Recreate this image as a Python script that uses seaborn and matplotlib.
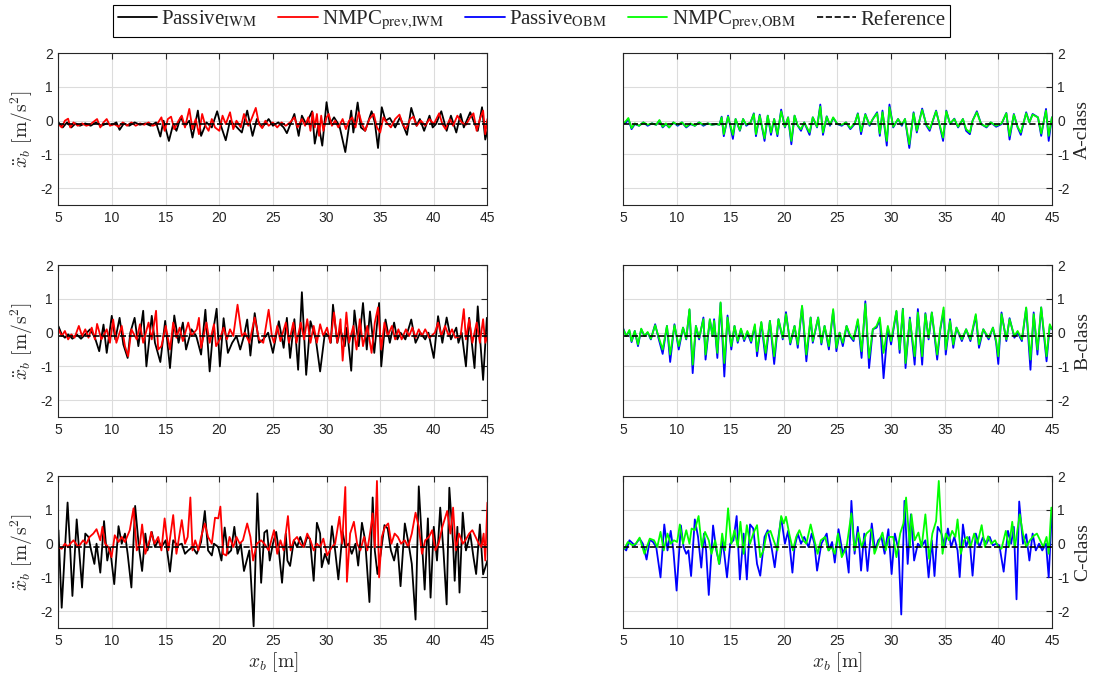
import matplotlib
matplotlib.use("Agg")
import matplotlib.pyplot as plt
from matplotlib.font_manager import FontProperties
from matplotlib.lines import Line2D
import pandas as pd
import seaborn as sns

# (x_b [m], body acceleration [m/s^2]) vertices
# A-class road
a_passive_iwm = [(5.0,-0.05),(5.4,-0.2),(5.8,-0.05),(6.2,-0.2),(6.6,-0.08),(7.0,-0.15),(7.5,-0.08),(8.0,-0.15),(8.5,-0.05),(9.0,-0.15),
    (9.5,-0.08),(10.0,-0.12),(10.4,-0.05),(10.7,-0.27),(11.1,-0.08),(11.6,-0.15),(12.1,-0.05),(12.6,-0.12),(13.1,-0.08),(13.6,-0.15),
    (14.1,-0.05),(14.5,-0.47),(14.8,0.0),(15.3,-0.6),(15.7,-0.1),(16.0,-0.3),(16.4,0.1),(16.8,-0.15),(17.2,0.0),(17.5,-0.5),
    (18.0,0.3),(18.3,-0.45),(18.8,-0.05),(19.3,-0.2),(19.8,0.28),(20.1,-0.1),(20.6,-0.58),(21.0,0.0),(21.5,-0.15),(22.1,-0.35),
    (22.6,0.3),(23.1,-0.45),(23.5,0.05),(24.0,-0.2),(24.6,0.05),(25.0,-0.15),(25.5,-0.05),(26.0,-0.2),(26.3,-0.37),(27.0,0.2),
    (27.4,-0.45),(27.7,0.15),(28.1,-0.1),(28.65,0.28),(28.9,-0.68),(29.25,-0.1),(29.6,-0.74),(30.0,0.55),(30.3,-0.1),(30.7,0.1),
    (31.2,-0.15),(31.75,-0.93),(32.3,0.3),(32.5,-0.35),(32.9,0.54),(33.2,-0.2),(33.6,-0.3),(34.2,0.28),(34.5,-0.05),(34.8,-0.81),
    (35.15,0.4),(35.5,0.0),(35.9,0.08),(36.4,-0.2),(36.85,0.1),(37.5,-0.42),(37.9,0.38),(38.4,-0.15),(38.7,0.05),(39.1,-0.3),
    (39.6,0.15),(39.9,-0.2),(40.2,-0.1),(40.7,0.28),(41.2,-0.3),(41.6,0.15),(42.1,-0.35),(42.5,0.2),(42.8,-0.2),(43.4,0.25),
    (43.7,0.0),(44.1,-0.3),(44.5,0.4),(44.8,-0.56),(45.0,-0.3)]
a_nmpc_iwm = [(5.0,-0.1),(5.3,-0.2),(5.6,0.0),(5.9,0.06),(6.1,-0.2),(6.4,-0.05),(6.8,-0.15),(7.2,-0.08),(7.6,-0.15),(8.0,-0.1),
    (8.4,0.0),(8.6,0.05),(8.9,-0.2),(9.2,-0.05),(9.5,0.05),(9.8,-0.15),(10.2,-0.1),(10.6,-0.18),(11.0,-0.05),(11.4,-0.15),
    (11.8,-0.05),(12.2,-0.15),(12.6,-0.08),(13.0,-0.12),(13.4,-0.05),(13.8,-0.15),(14.2,-0.1),(14.6,0.1),(14.9,-0.3),(15.2,0.05),
    (15.5,0.12),(15.8,-0.25),(16.2,0.0),(16.5,0.15),(16.8,-0.2),(17.2,0.35),(17.5,-0.25),(17.8,0.05),(18.1,-0.4),(18.4,0.2),
    (18.7,-0.15),(19.0,-0.3),(19.3,0.05),(19.6,-0.2),(20.0,-0.3),(20.3,0.15),(20.6,-0.1),(21.0,0.25),(21.3,-0.25),(21.6,0.0),
    (22.0,-0.2),(22.3,0.2),(22.7,-0.15),(23.0,0.05),(23.4,0.38),(23.7,-0.1),(24.0,-0.22),(24.3,0.0),(24.6,-0.15),(25.0,-0.05),
    (25.4,-0.2),(25.8,-0.05),(26.2,-0.15),(26.6,-0.05),(27.0,0.1),(27.3,-0.2),(27.7,0.05),(28.0,-0.15),(28.3,0.1),(28.5,-0.3),
    (28.7,0.25),(28.9,-0.2),(29.1,0.2),(29.3,-0.45),(29.5,0.15),(29.7,-0.3),(30.0,0.1),(30.2,0.2),(30.5,-0.15),(30.8,0.0),
    (31.1,-0.2),(31.5,0.05),(31.8,-0.25),(32.1,0.0),(32.4,0.1),(32.7,-0.2),(33.0,0.25),(33.3,-0.1),(33.6,-0.3),(34.0,0.05),
    (34.4,0.2),(34.7,-0.2),(35.0,-0.35),(35.3,0.1),(35.6,-0.05),(36.0,-0.2),(36.4,0.05),(36.8,0.18),(37.1,-0.1),(37.4,-0.25),
    (37.8,0.05),(38.1,0.12),(38.4,-0.15),(38.8,0.0),(39.2,-0.15),(39.6,0.05),(40.0,-0.1),(40.5,0.22),(40.8,-0.1),(41.1,-0.25),
    (41.5,0.05),(41.8,-0.15),(42.2,0.15),(42.6,-0.05),(43.0,-0.12),(43.4,0.1),(43.7,0.22),(44.0,-0.3),(44.3,0.05),(44.6,0.3),
    (44.8,-0.4),(45.0,0.05)]
a_passive_obm = [(5.0,-0.1),(5.3,-0.05),(5.5,0.05),(5.8,-0.25),(6.1,-0.1),(6.5,-0.15),(6.9,-0.05),(7.3,-0.15),(7.7,-0.08),(8.1,-0.12),
    (8.4,0.0),(8.7,-0.2),(9.0,-0.1),(9.3,-0.2),(9.7,-0.05),(10.1,-0.15),(10.5,-0.05),(10.9,-0.2),(11.3,-0.1),(11.7,-0.15),
    (12.1,-0.05),(12.5,-0.15),(12.9,-0.08),(13.3,-0.12),(13.7,-0.1),(14.0,-0.12),(14.2,0.12),(14.4,-0.46),(14.8,0.15),(15.25,-0.54),
    (15.5,0.05),(15.9,-0.3),(16.2,0.05),(16.5,-0.15),(16.9,-0.05),(17.2,0.22),(17.4,-0.46),(17.75,0.18),(18.2,-0.6),(18.5,0.15),
    (18.8,-0.42),(19.1,0.05),(19.4,-0.46),(19.75,0.33),(20.1,-0.2),(20.4,0.1),(20.7,-0.7),(21.0,0.15),(21.3,-0.15),(21.6,-0.3),
    (21.9,-0.05),(22.4,-0.42),(22.7,0.1),(23.1,-0.2),(23.4,0.48),(23.65,-0.42),(24.0,0.13),(24.3,-0.15),(24.6,0.08),(25.0,-0.1),
    (25.4,-0.15),(25.8,-0.05),(26.2,-0.25),(26.6,-0.1),(26.9,0.22),(27.2,-0.4),(27.6,0.2),(28.0,-0.15),(28.3,0.05),(28.7,0.25),
    (28.95,-0.45),(29.2,0.3),(29.6,-0.74),(29.85,0.48),(30.2,-0.2),(30.65,0.05),(31.0,-0.15),(31.3,0.05),(31.7,-0.81),(32.1,0.25),
    (32.4,-0.35),(32.9,0.36),(33.3,-0.15),(33.6,-0.3),(34.2,0.3),(34.5,-0.1),(34.85,-0.6),(35.15,0.3),(35.5,-0.1),(35.9,0.06),
    (36.25,-0.2),(36.7,0.05),(37.0,-0.3),(37.35,-0.4),(37.6,0.0),(38.0,0.28),(38.4,-0.1),(38.9,-0.2),(39.3,-0.05),(39.8,-0.18),
    (40.3,-0.1),(40.75,0.23),(41.05,-0.56),(41.45,0.2),(41.8,-0.2),(42.1,-0.42),(42.6,0.25),(42.9,-0.05),(43.2,0.2),(43.7,0.1),
    (44.0,-0.45),(44.45,0.35),(44.7,-0.6),(45.0,0.1)]
a_nmpc_obm = [(5.0,-0.1),(5.3,0.0),(5.5,0.08),(5.8,-0.22),(6.1,-0.08),(6.5,-0.15),(6.9,-0.05),(7.3,-0.12),(7.7,-0.08),(8.1,-0.12),
    (8.4,0.02),(8.7,-0.18),(9.0,-0.08),(9.3,-0.2),(9.7,-0.05),(10.1,-0.12),(10.5,-0.05),(10.9,-0.18),(11.3,-0.08),(11.7,-0.15),
    (12.1,-0.05),(12.5,-0.12),(12.9,-0.08),(13.3,-0.12),(13.7,-0.1),(14.0,-0.12),(14.2,0.1),(14.4,-0.4),(14.8,0.12),(15.25,-0.42),
    (15.5,0.05),(15.9,-0.28),(16.2,0.05),(16.5,-0.12),(16.9,-0.05),(17.2,0.2),(17.4,-0.4),(17.75,0.15),(18.2,-0.52),(18.5,0.15),
    (18.8,-0.35),(19.1,0.05),(19.4,-0.4),(19.75,0.28),(20.1,-0.18),(20.4,0.1),(20.7,-0.6),(21.0,0.15),(21.3,-0.15),(21.6,-0.25),
    (21.9,-0.05),(22.4,-0.35),(22.7,0.1),(23.1,-0.18),(23.4,0.42),(23.65,-0.35),(24.0,0.12),(24.3,-0.12),(24.6,0.1),(25.0,-0.1),
    (25.4,-0.12),(25.8,-0.05),(26.2,-0.22),(26.6,-0.08),(26.9,0.2),(27.2,-0.32),(27.6,0.18),(28.0,-0.12),(28.3,0.05),(28.7,0.22),
    (28.95,-0.38),(29.2,0.25),(29.6,-0.6),(29.85,0.4),(30.2,-0.18),(30.65,0.05),(31.0,-0.12),(31.3,0.05),(31.7,-0.7),(32.1,0.22),
    (32.4,-0.3),(32.9,0.32),(33.3,-0.12),(33.6,-0.25),(34.2,0.28),(34.5,-0.08),(34.85,-0.5),(35.15,0.28),(35.5,-0.08),(35.9,0.05),
    (36.25,-0.18),(36.7,0.05),(37.0,-0.25),(37.35,-0.35),(37.6,0.0),(38.0,0.25),(38.4,-0.1),(38.9,-0.18),(39.3,-0.05),(39.8,-0.15),
    (40.3,-0.08),(40.75,0.22),(41.05,-0.45),(41.45,0.18),(41.8,-0.18),(42.1,-0.35),(42.6,0.22),(42.9,-0.05),(43.2,0.18),(43.7,0.1),
    (44.0,-0.38),(44.45,0.3),(44.7,-0.45),(45.0,0.1)]

# B-class road
b_passive_iwm = [(5.0,0.19),(5.3,-0.05),(5.6,-0.15),(5.9,-0.05),(6.3,-0.18),(6.7,-0.05),(7.1,-0.18),(7.5,-0.05),(7.95,0.1),(8.4,-0.15),
    (8.8,-0.55),(9.2,0.24),(9.5,-0.6),(9.97,0.5),(10.3,-0.2),(10.7,0.44),(11.05,-0.35),(11.45,-0.75),(11.7,0.0),(12.1,0.44),
    (12.45,-0.4),(12.9,0.65),(13.2,-1.0),(13.7,0.5),(14.0,-0.3),(14.5,-0.87),(14.95,0.35),(15.4,-1.05),(15.8,0.51),(16.2,-0.3),
    (16.6,0.3),(16.9,-0.5),(17.4,0.1),(17.85,-0.1),(18.3,-0.65),(18.7,0.68),(19.1,-1.15),(19.4,0.0),(19.75,0.71),(20.05,-1.0),
    (20.4,0.43),(20.8,-0.6),(21.2,-0.3),(21.6,-0.1),(21.95,-0.5),(22.3,-0.1),(22.6,0.39),(22.9,-0.68),(23.3,0.58),(23.7,-0.3),
    (24.1,-0.2),(24.55,0.0),(25.0,-0.6),(25.55,0.34),(26.0,-0.45),(26.3,0.44),(26.6,-0.75),(27.0,0.4),(27.35,-1.1),(27.7,1.2),
    (28.1,-1.25),(28.5,0.34),(29.0,-0.2),(29.4,-1.15),(29.85,0.0),(30.2,-0.1),(30.4,-0.3),(30.6,0.83),(31.0,-0.3),(31.3,0.1),
    (31.7,-0.4),(31.9,0.15),(32.3,-1.13),(32.6,0.66),(33.0,-0.4),(33.4,0.88),(33.75,-0.5),(34.05,0.63),(34.45,-0.6),(34.9,0.88),
    (35.1,-1.0),(35.5,0.39),(35.9,-0.3),(36.3,0.3),(36.6,-0.2),(36.9,0.0),(37.35,-0.2),(37.9,0.39),(38.3,-0.3),(38.75,0.0),
    (39.2,-0.2),(39.5,0.0),(40.0,-0.75),(40.4,0.49),(40.8,-0.3),(41.2,0.45),(41.6,-0.2),(42.1,0.15),(42.3,-0.3),(42.6,0.0),
    (43.0,-1.0),(43.3,0.44),(43.8,-1.05),(44.1,0.78),(44.6,-1.4),(44.95,0.44)]
b_nmpc_iwm = [(5.0,0.1),(5.3,-0.1),(5.6,0.05),(5.9,-0.2),(6.2,-0.05),(6.5,-0.15),(6.9,0.2),(7.2,-0.1),(7.5,0.1),(7.8,-0.15),
    (8.1,0.15),(8.4,-0.2),(8.6,0.26),(9.0,-0.2),(9.5,0.1),(9.8,-0.3),(10.1,0.39),(10.4,-0.3),(10.9,0.2),(11.2,-0.4),
    (11.5,-0.7),(11.8,0.1),(12.3,-0.2),(12.6,0.25),(12.9,-0.3),(13.4,0.3),(13.7,-0.2),(14.1,0.65),(14.3,-0.5),(14.6,-0.4),
    (15.0,0.2),(15.4,-0.5),(15.7,0.3),(16.0,-0.15),(16.3,0.15),(16.6,-0.25),(17.1,0.3),(17.4,-0.1),(17.9,0.1),(18.1,0.44),
    (18.3,-0.45),(18.8,0.3),(19.1,-0.3),(19.5,0.25),(19.7,-0.4),(20.05,-0.2),(20.4,0.15),(20.7,-0.2),(21.0,0.1),(21.3,-0.1),
    (21.7,0.83),(22.1,-0.1),(22.4,0.0),(22.8,-0.3),(23.3,0.45),(23.7,-0.2),(24.1,-0.3),(24.6,0.68),(24.9,-0.1),(25.1,-0.3),
    (25.4,0.2),(25.7,-0.25),(26.2,0.3),(26.5,-0.3),(26.9,0.3),(27.2,-0.3),(27.6,0.3),(27.9,-0.2),(28.2,0.4),(28.5,-0.3),
    (28.8,0.2),(29.1,-0.3),(29.4,0.25),(29.7,-0.1),(30.05,0.15),(30.35,-0.3),(30.7,0.6),(31.0,-0.3),(31.3,0.4),(31.5,-0.83),
    (31.85,0.6),(32.1,-0.3),(32.5,0.2),(32.8,-0.5),(33.1,0.4),(33.4,-0.4),(33.8,0.2),(34.2,-0.6),(34.5,0.3),(34.8,0.75),
    (35.1,-0.5),(35.4,0.3),(35.7,-0.1),(36.1,0.2),(36.4,-0.2),(36.7,0.1),(37.0,-0.2),(37.4,0.1),(37.7,-0.1),(38.0,0.15),
    (38.3,-0.15),(38.6,0.1),(38.9,-0.1),(39.2,0.1),(39.6,-0.15),(40.1,0.0),(40.4,0.3),(40.7,-0.1),(41.05,0.2),(41.4,-0.1),
    (41.7,0.1),(42.0,-0.15),(42.5,-0.1),(42.8,0.7),(43.0,-0.2),(43.3,0.4),(43.6,-0.3),(44.0,0.3),(44.3,-0.3),(44.6,0.4),
    (44.8,-0.3),(45.0,-0.1)]
b_passive_obm = [(5.0,0.14),(5.3,-0.1),(5.6,0.05),(5.8,-0.28),(6.1,0.05),(6.4,-0.4),(6.7,0.1),(7.0,-0.1),(7.3,0.0),(7.6,-0.2),
    (8.0,0.25),(8.3,-0.15),(8.7,-0.63),(9.1,0.2),(9.4,-0.87),(9.8,0.25),(10.2,-0.5),(10.6,0.15),(10.9,-0.2),(11.2,0.68),
    (11.5,-1.2),(11.8,0.2),(12.1,-0.2),(12.5,0.45),(12.7,-0.8),(13.1,0.39),(13.35,-0.1),(13.5,0.4),(13.8,-0.75),(14.1,0.88),
    (14.45,-1.3),(14.75,0.51),(15.1,-0.5),(15.4,0.2),(15.7,-0.3),(16.0,0.1),(16.3,-0.25),(16.6,0.0),(16.95,-0.3),(17.3,0.2),
    (17.5,-0.7),(17.9,0.3),(18.3,-0.8),(18.7,0.35),(19.1,-0.93),(19.5,0.4),(19.9,-0.2),(20.2,0.61),(20.6,-0.35),(21.0,0.2),
    (21.3,-0.45),(21.7,0.78),(22.1,-0.85),(22.5,0.45),(22.7,-0.3),(23.2,0.45),(23.5,-0.35),(23.8,0.2),(24.2,-0.5),(24.6,0.65),
    (24.9,-0.55),(25.2,0.0),(25.5,-0.4),(25.85,0.2),(26.15,-0.1),(26.5,-0.25),(26.9,0.35),(27.25,-0.75),(27.6,0.93),(27.95,-1.05),
    (28.3,0.1),(28.65,0.15),(28.95,0.39),(29.3,-1.35),(29.7,0.15),(30.0,-0.35),(30.5,0.63),(30.8,-0.6),(31.1,0.71),(31.35,-1.05),
    (31.75,0.45),(32.2,-0.95),(32.5,0.7),(32.9,-0.95),(33.2,0.58),(33.5,-0.2),(33.8,0.6),(34.3,-0.8),(34.6,0.1),(34.9,0.66),
    (35.1,-0.65),(35.5,0.4),(35.8,-0.45),(36.1,0.15),(36.6,-0.25),(37.0,0.1),(37.4,-0.25),(37.9,0.5),(38.2,-0.45),(38.6,0.1),
    (39.1,-0.2),(39.5,0.15),(39.8,-0.3),(40.0,-0.93),(40.3,0.6),(40.75,-0.25),(41.05,0.43),(41.5,-0.15),(41.8,0.0),(42.2,-0.25),
    (42.6,0.73),(43.0,-1.1),(43.3,0.6),(43.65,-0.65),(44.0,0.75),(44.5,-0.85),(44.8,0.2),(45.0,0.1)]
b_nmpc_obm = [(5.0,0.12),(5.3,-0.1),(5.6,0.08),(5.8,-0.25),(6.1,0.05),(6.4,-0.35),(6.7,0.12),(7.0,-0.1),(7.3,0.02),(7.6,-0.18),
    (8.0,0.22),(8.3,-0.1),(8.7,-0.5),(9.1,0.2),(9.4,-0.65),(9.8,0.22),(10.2,-0.4),(10.6,0.15),(10.9,-0.18),(11.2,0.7),
    (11.5,-0.95),(11.8,0.2),(12.1,-0.15),(12.5,0.4),(12.7,-0.65),(13.1,0.4),(13.35,-0.1),(13.5,0.35),(13.8,-0.6),(14.1,0.9),
    (14.45,-0.9),(14.75,0.45),(15.1,-0.4),(15.4,0.2),(15.7,-0.25),(16.0,0.12),(16.3,-0.2),(16.6,0.05),(16.95,-0.25),(17.3,0.25),
    (17.5,-0.55),(17.9,0.32),(18.3,-0.6),(18.7,0.35),(19.1,-0.7),(19.5,0.4),(19.9,-0.15),(20.2,0.55),(20.6,-0.3),(21.0,0.2),
    (21.3,-0.35),(21.7,0.8),(22.1,-0.65),(22.5,0.45),(22.7,-0.25),(23.2,0.45),(23.5,-0.3),(23.8,0.2),(24.2,-0.4),(24.6,0.7),
    (24.9,-0.45),(25.2,0.0),(25.5,-0.3),(25.85,0.2),(26.15,-0.05),(26.5,-0.2),(26.9,0.4),(27.25,-0.55),(27.6,0.85),(27.95,-0.75),
    (28.3,0.1),(28.65,0.2),(28.95,0.45),(29.3,-0.6),(29.7,0.2),(30.0,-0.25),(30.5,0.65),(30.8,-0.5),(31.1,0.7),(31.35,-0.9),
    (31.75,0.4),(32.2,-0.7),(32.5,0.6),(32.9,-0.7),(33.2,0.55),(33.5,-0.15),(33.8,0.6),(34.3,-0.65),(34.6,0.15),(34.9,0.75),
    (35.1,-0.5),(35.5,0.35),(35.8,-0.35),(36.1,0.15),(36.6,-0.2),(37.0,0.1),(37.4,-0.2),(37.9,0.55),(38.2,-0.35),(38.6,0.1),
    (39.1,-0.15),(39.5,0.15),(39.8,-0.25),(40.0,-0.7),(40.3,0.55),(40.75,-0.2),(41.05,0.4),(41.5,-0.1),(41.8,0.05),(42.2,-0.2),
    (42.6,0.75),(43.0,-0.8),(43.3,0.55),(43.65,-0.5),(44.0,0.75),(44.5,-0.7),(44.8,0.25),(45.0,0.1)]

# C-class road
c_passive_iwm = [(5.0,0.4),(5.3,-1.9),(5.85,1.22),(6.1,-0.2),(6.3,-1.55),(6.7,0.72),(7.0,-0.5),(7.2,-1.3),(7.5,0.3),(7.8,0.2),
    (8.05,-0.2),(8.35,-0.6),(8.55,0.0),(8.9,-0.86),(9.25,0.67),(9.55,-0.5),(9.8,-0.1),(10.2,-1.2),(10.6,0.52),(10.9,0.0),
    (11.2,0.3),(11.45,-0.3),(11.8,-1.3),(12.15,1.12),(12.5,-0.1),(12.8,-0.81),(13.1,0.3),(13.3,-0.2),(13.7,0.35),(14.0,-0.1),
    (14.3,0.1),(14.6,-0.1),(15.0,0.1),(15.4,-0.83),(15.7,0.1),(16.1,-0.05),(16.5,0.0),(16.8,-0.3),(17.1,-0.2),(17.5,-0.1),
    (17.9,-0.3),(18.3,0.05),(18.65,0.97),(18.95,-0.2),(19.3,-0.35),(19.5,0.0),(19.9,-0.1),(20.2,-0.5),(20.5,0.48),(20.8,-0.3),
    (21.1,-0.2),(21.4,0.5),(21.7,-0.3),(22.0,0.0),(22.3,-0.81),(22.8,-0.2),(23.2,-2.45),(23.55,1.49),(23.9,-1.16),(24.2,0.33),
    (24.45,0.4),(24.7,-0.5),(25.0,0.0),(25.3,0.35),(25.55,-0.2),(25.85,-1.16),(26.2,0.3),(26.35,-0.5),(26.6,-0.66),(26.95,0.1),
    (27.25,-0.1),(27.55,0.2),(27.9,-0.1),(28.2,0.2),(28.45,0.15),(28.8,-1.1),(29.1,0.62),(29.4,0.3),(29.55,-0.7),(29.85,-0.3),
    (30.2,-0.6),(30.5,0.52),(30.8,-0.2),(31.1,-1.06),(31.5,0.35),(31.75,-0.1),(32.05,0.0),(32.35,-0.3),(32.7,0.0),(32.95,-0.65),
    (33.3,0.62),(33.6,0.1),(34.0,-1.73),(34.3,1.37),(34.5,-0.2),(34.75,-0.9),(35.05,-0.3),(35.4,0.55),(35.7,0.45),(36.0,-0.2),
    (36.3,-0.5),(36.6,0.0),(36.9,-1.26),(37.3,0.6),(37.65,0.0),(37.95,-0.6),(38.3,-2.25),(38.6,1.7),(38.9,0.0),(39.15,-1.36),
    (39.45,0.75),(39.7,-1.6),(40.0,0.5),(40.3,-0.5),(40.6,1.07),(40.9,-0.2),(41.2,-1.8),(41.45,1.66),(41.8,0.0),(41.95,-1.1),
    (42.2,0.5),(42.4,-1.45),(42.7,0.92),(43.0,-0.2),(43.4,0.3),(43.7,-0.4),(43.95,-0.9),(44.3,0.57),(44.6,-0.91),(45.0,-0.5)]
c_nmpc_iwm = [(5.0,-0.1),(5.3,-0.15),(5.6,0.0),(5.9,-0.1),(6.1,0.0),(6.4,0.1),(6.85,-0.1),(7.3,0.1),(7.6,0.0),(7.9,0.2),
    (8.25,0.3),(8.55,0.43),(8.9,0.1),(9.1,0.5),(9.35,0.0),(9.65,-0.1),(9.95,-0.4),(10.25,0.25),(10.6,0.05),(10.9,0.2),
    (11.2,0.05),(11.65,0.4),(12.0,1.05),(12.3,-0.2),(12.6,0.0),(12.8,0.57),(13.1,-0.3),(13.5,0.1),(13.65,0.35),(13.95,0.0),
    (14.3,0.2),(14.6,-0.2),(14.9,0.75),(15.25,-0.2),(15.7,0.85),(16.0,-0.3),(16.5,0.7),(16.8,0.0),(17.05,0.2),(17.3,1.37),
    (17.5,-0.2),(17.75,0.1),(18.05,-0.2),(18.3,0.2),(18.65,0.6),(18.95,0.2),(19.3,0.0),(19.6,0.77),(19.9,0.75),(20.1,1.1),
    (20.35,-0.3),(20.65,-0.35),(20.95,0.2),(21.3,-0.1),(21.6,0.2),(21.9,0.0),(22.2,0.1),(22.6,0.6),(22.9,0.2),(23.15,-0.5),
    (23.5,0.0),(23.9,0.1),(24.2,0.0),(24.6,-0.2),(25.1,0.4),(25.4,-0.3),(25.7,0.1),(26.0,-0.2),(26.4,0.82),(26.65,-0.2),
    (26.95,0.1),(27.25,0.2),(27.55,0.0),(27.85,-0.1),(28.2,0.3),(28.5,0.1),(28.8,-0.2),(29.1,0.0),(29.4,-0.1),(29.7,0.15),
    (30.05,-0.35),(30.5,-0.1),(30.8,0.0),(31.2,0.8),(31.45,0.0),(31.75,1.68),(31.9,-1.13),(32.2,0.3),(32.55,0.65),(32.85,0.0),
    (33.15,-0.2),(33.5,0.2),(33.8,-0.2),(34.1,0.4),(34.3,0.9),(34.5,-0.1),(34.7,1.86),(34.9,-1.0),(35.15,0.2),(35.45,0.5),
    (35.75,0.6),(36.05,0.0),(36.35,0.3),(36.65,0.2),(36.95,0.0),(37.3,0.1),(37.6,-0.1),(37.95,0.3),(38.3,0.92),(38.6,0.5),
    (38.9,-0.3),(39.2,0.1),(39.55,0.2),(39.85,0.4),(40.15,-0.2),(40.45,0.0),(40.8,0.5),(41.25,0.97),(41.55,0.3),(41.8,1.07),
    (42.05,-0.2),(42.35,0.3),(42.7,0.0),(42.95,0.1),(43.3,0.3),(43.6,0.4),(43.9,0.2),(44.2,0.0),(44.45,-0.1),(44.65,0.3),
    (44.8,-0.5),(45.0,1.22)]
c_passive_obm = [(5.0,-0.1),(5.3,-0.2),(5.6,0.1),(6.1,-0.05),(6.55,0.15),(6.85,0.0),(7.2,-0.47),(7.5,0.12),(7.8,0.05),(8.1,-0.1),
    (8.5,-1.0),(8.85,0.57),(9.15,-0.2),(9.45,0.38),(9.7,-0.2),(10.0,-1.39),(10.4,0.54),(10.65,-0.1),(10.9,-0.3),(11.1,-0.2),
    (11.35,-0.96),(11.7,0.72),(12.0,0.2),(12.3,-0.71),(12.55,0.3),(12.75,-0.2),(13.0,-1.52),(13.4,0.54),(13.7,-0.2),(14.0,-0.6),
    (14.3,0.1),(14.7,-1.0),(15.0,0.0),(15.3,0.1),(15.6,0.82),(15.9,-1.06),(16.25,0.3),(16.55,-1.06),(16.85,0.57),(17.15,0.45),
    (17.5,-0.6),(17.8,-0.95),(18.2,0.2),(18.5,0.4),(18.85,-0.1),(19.15,-0.7),(19.45,0.1),(19.75,0.77),(20.1,0.0),(20.4,0.38),
    (20.8,-0.86),(21.0,-0.1),(21.3,0.3),(21.6,0.0),(21.9,0.2),(22.3,-0.1),(22.6,0.3),(22.85,0.0),(23.1,-0.8),(23.5,0.0),
    (24.0,0.3),(24.2,-0.2),(24.5,0.05),(24.75,-0.56),(25.1,0.43),(25.5,-0.3),(25.75,-0.1),(26.05,-0.86),(26.3,1.27),(26.6,-0.3),
    (26.9,0.5),(27.2,-0.8),(27.5,0.3),(27.8,-0.81),(28.2,0.6),(28.5,-0.2),(28.8,0.1),(29.1,0.2),(29.4,-0.3),(29.75,0.43),
    (30.05,-0.9),(30.35,0.3),(30.7,-0.2),(30.95,-2.1),(31.25,1.27),(31.55,-0.6),(31.85,0.87),(32.15,-0.5),(32.5,0.0),(32.8,-0.1),
    (33.2,0.1),(33.5,-1.0),(33.8,0.1),(34.05,-0.96),(34.35,0.5),(34.7,0.3),(35.0,-0.1),(35.3,0.45),(35.6,-0.1),(35.9,0.2),
    (36.2,-0.2),(36.4,-0.99),(36.7,0.57),(37.0,-0.1),(37.3,0.2),(37.6,-0.95),(37.9,0.3),(38.25,-0.1),(38.55,0.18),(38.9,0.0),
    (39.2,0.2),(39.5,-0.05),(39.8,0.0),(40.1,-0.05),(40.5,-0.83),(40.9,0.38),(41.2,0.0),(41.45,0.5),(41.7,-1.65),(41.95,1.25),
    (42.3,0.0),(42.6,0.28),(42.9,-0.5),(43.2,0.3),(43.5,-0.2),(43.8,0.0),(44.1,-0.2),(44.45,0.0),(44.7,-1.0),(45.0,1.0)]
c_nmpc_obm = [(5.0,-0.1),(5.15,-0.15),(5.45,0.05),(5.9,-0.05),(6.2,0.0),(6.55,0.18),(7.0,-0.3),(7.5,0.15),(7.9,0.1),(8.2,-0.1),
    (8.5,0.35),(8.8,-0.2),(9.15,0.3),(9.45,0.0),(9.75,0.1),(10.05,0.05),(10.3,0.57),(10.6,0.0),(10.9,0.4),(11.2,0.0),
    (11.4,0.45),(11.7,0.4),(12.05,0.82),(12.35,-0.1),(12.65,0.35),(13.0,0.1),(13.25,-0.3),(13.6,0.1),(13.95,-0.6),(14.25,0.3),
    (14.5,-0.2),(14.8,1.05),(15.1,0.0),(15.4,0.4),(15.7,-0.1),(15.95,0.65),(16.25,-0.3),(16.55,0.55),(16.85,0.0),(17.15,0.3),
    (17.5,0.55),(17.8,-0.4),(18.1,-0.2),(18.4,0.3),(18.75,0.38),(19.05,0.1),(19.4,-0.2),(19.75,0.82),(20.0,0.6),(20.2,0.8),
    (20.5,0.3),(20.85,-0.2),(21.15,0.2),(21.45,0.4),(21.8,0.1),(22.1,0.0),(22.5,0.57),(22.85,0.1),(23.15,-0.3),(23.45,0.1),
    (23.85,0.2),(24.15,-0.2),(24.45,-0.1),(24.75,-0.3),(25.05,0.3),(25.4,-0.4),(25.85,-0.1),(26.3,0.9),(26.6,-0.2),(26.95,0.33),
    (27.25,-0.1),(27.7,0.3),(28.15,0.43),(28.45,-0.3),(28.8,0.0),(29.2,0.33),(29.5,-0.2),(29.8,0.2),(30.2,0.2),(30.5,-0.4),
    (30.85,0.3),(31.15,0.6),(31.4,1.37),(31.75,-0.1),(31.9,0.87),(32.2,0.1),(32.55,0.33),(32.85,-0.1),(33.2,0.87),(33.55,-0.45),
    (33.85,0.3),(34.2,0.67),(34.45,1.86),(34.8,-0.3),(35.1,0.3),(35.4,0.1),(35.7,0.38),(36.0,0.2),(36.2,0.72),(36.5,-0.3),
    (36.8,0.1),(37.1,0.2),(37.4,-0.1),(37.75,0.3),(38.05,0.0),(38.45,0.55),(38.75,-0.1),(39.05,0.22),(39.35,0.0),(39.7,0.1),
    (40.0,-0.1),(40.3,-0.15),(40.7,0.38),(41.0,-0.1),(41.3,0.65),(41.55,-0.1),(42.0,0.87),(42.3,0.3),(42.6,-0.1),(42.95,0.1),
    (43.25,0.22),(43.6,0.3),(43.9,0.1),(44.2,-0.1),(44.5,0.2),(44.7,-0.3),(44.95,1.07)]

reference_x = [5, 45]
reference_y = [-0.1, -0.1]

road_classes = ['A-class', 'B-class', 'C-class']
legend_labels = [r'Passive$_{\mathrm{IWM}}$', r'NMPC$_{\mathrm{prev{,}IWM}}$',
                 r'Passive$_{\mathrm{OBM}}$', r'NMPC$_{\mathrm{prev{,}OBM}}$', 'Reference']
colors = {'passive_iwm': 'black', 'nmpc_iwm': '#ff0000', 'passive_obm': '#0000ff', 'nmpc_obm': '#00ff00'}

sns.set_style('whitegrid')
plt.rcParams['font.family'] = ['Liberation Sans', 'DejaVu Sans']
plt.rcParams['mathtext.fontset'] = 'cm'
plt.rcParams['axes.unicode_minus'] = False


def to_frame(pairs, name):
    df = pd.DataFrame(pairs, columns=['x', 'acc'])
    df['series'] = name
    return df


fig = plt.figure(figsize=(10.97, 6.82), dpi=100)
lefts = [0.0533, 0.5679]
bottoms = [0.6994, 0.3886, 0.0792]
w, h = 0.391, 0.2225

panels = [
    [(a_passive_iwm, 'passive_iwm'), (a_nmpc_iwm, 'nmpc_iwm'), (a_passive_obm, 'passive_obm'), (a_nmpc_obm, 'nmpc_obm')],
    [(b_passive_iwm, 'passive_iwm'), (b_nmpc_iwm, 'nmpc_iwm'), (b_passive_obm, 'passive_obm'), (b_nmpc_obm, 'nmpc_obm')],
    [(c_passive_iwm, 'passive_iwm'), (c_nmpc_iwm, 'nmpc_iwm'), (c_passive_obm, 'passive_obm'), (c_nmpc_obm, 'nmpc_obm')],
]

for r, row in enumerate(panels):
    for c in range(2):
        ax = fig.add_axes([lefts[c], bottoms[r], w, h])
        for pairs, name in row[2 * c:2 * c + 2]:
            sns.lineplot(data=to_frame(pairs, name), x='x', y='acc', color=colors[name],
                         estimator=None, sort=False, linewidth=1.3, ax=ax)
        sns.lineplot(x=reference_x, y=reference_y, color='black', linestyle='--',
                     linewidth=1.2, ax=ax)

        ax.set_xlim(5, 45)
        ax.set_ylim(-2.5, 2)
        ax.set_xticks(range(5, 46, 5))
        ax.set_yticks([-2, -1, 0, 1, 2])
        ax.grid(True, color='#dcdcdc', linewidth=0.8)
        for s in ax.spines.values():
            s.set_visible(True)
            s.set_color('#262626')
            s.set_linewidth(0.8)
        ax.tick_params(direction='in', top=True, right=True, length=4, width=0.8,
                       labelsize=10, colors='#262626', pad=4)
        ax.set_xlabel('')
        if c == 0:
            ax.set_ylabel(r'$\ddot{x}_b\ [\mathrm{m/s^2}]$', fontsize=14, labelpad=4)
        else:
            ax.tick_params(labelleft=False, labelright=True)
            ax.yaxis.set_label_position('right')
            ax.set_ylabel(road_classes[r], fontsize=14, family='Liberation Serif',
                          rotation=90, labelpad=3)
        if r == 2:
            ax.set_xlabel(r'$x_b\ [\mathrm{m}]$', fontsize=14, labelpad=2)

handles = [Line2D([], [], color=colors['passive_iwm'], lw=1.3),
           Line2D([], [], color=colors['nmpc_iwm'], lw=1.3),
           Line2D([], [], color=colors['passive_obm'], lw=1.3),
           Line2D([], [], color=colors['nmpc_obm'], lw=1.3),
           Line2D([], [], color='black', lw=1.2, linestyle='--')]
leg = fig.legend(handles, legend_labels, loc='upper center', bbox_to_anchor=(0.4845, 0.993),
                 ncol=5, frameon=True, fancybox=False, edgecolor='black', framealpha=1,
                 prop=FontProperties(family='Liberation Serif', size=15, math_fontfamily='stix'),
                 handlelength=1.9, handletextpad=0.2, columnspacing=1.0, borderpad=0.2,
                 borderaxespad=0)
leg.get_frame().set_linewidth(0.8)

fig.savefig('out.png', dpi=100)
